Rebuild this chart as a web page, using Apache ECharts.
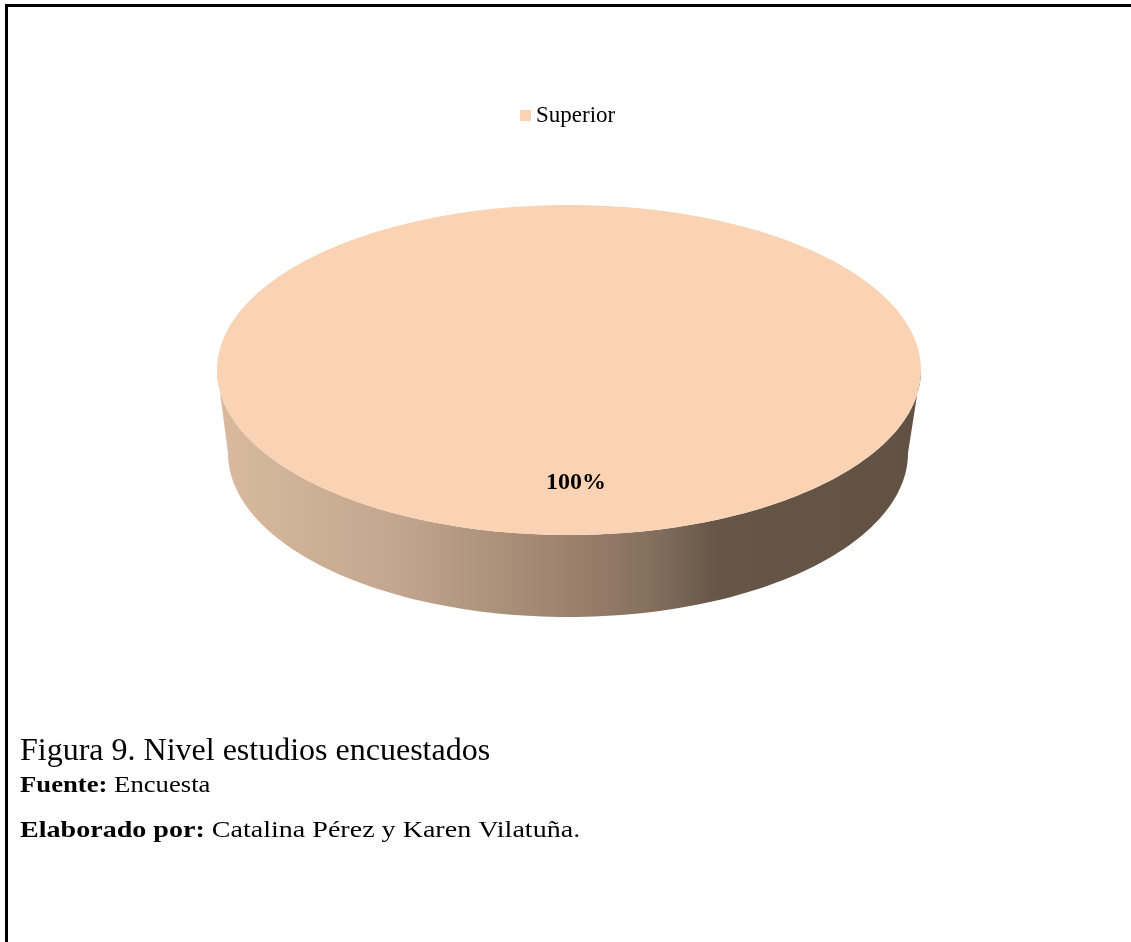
<!DOCTYPE html>
<html>
<head>
<meta charset="utf-8">
<title>Nivel estudios encuestados</title>
<script src="https://cdn.jsdelivr.net/npm/echarts@6/dist/echarts.min.js"></script>
<style>
  html, body { margin: 0; padding: 0; background: #fff; }
  #frame {
    position: absolute; left: 5px; top: 4px; right: 0; bottom: 0;
    border-top: 3px solid #000; border-left: 3px solid #000;
  }
  #chart { position: absolute; left: 0; top: 0; width: 1131px; height: 942px; }
</style>
</head>
<body>
<div id="frame"></div>
<div id="chart"></div>
<script>
// Survey answers: education level of respondents
const categories = ['Superior'];
const values = [100];

const captionTitle = 'Figura 9. Nivel estudios encuestados';
const sourceLabel = 'Fuente:';
const sourceText = 'Encuesta';
const authorLabel = 'Elaborado por:';
const authorText = 'Catalina Pérez y Karen Vilatuña.';

const SERIF = '"Liberation Serif", "DejaVu Serif", serif';
const TOP_COLOR = '#f9d3b4';

// Geometry of the tilted pie (top face ellipse and the bottom rim ellipse)
const disc = {
  cx: 569, cy: 370, rx: 352, ry: 165,
  bcx: 568, bcy: 453, brx: 340, bry: 164,
  labelFrac: 0.67, labelDx: 7, labelDy: 2
};

const total = values.reduce((a, b) => a + b, 0);
const starts = [];
values.reduce((acc, v, i) => { starts[i] = acc; return acc + v; }, 0);

function topPt(t) { return [disc.cx + disc.rx * Math.cos(t), disc.cy + disc.ry * Math.sin(t)]; }
function botPt(t) { return [disc.bcx + disc.brx * Math.cos(t), disc.bcy + disc.bry * Math.sin(t)]; }

function arc(fn, a, b, n) {
  const pts = [];
  for (let i = 0; i <= n; i++) pts.push(fn(a + (b - a) * i / n));
  return pts;
}

const sideGradient = {
  type: 'linear', global: true,
  x: disc.bcx - disc.brx, y: 0, x2: disc.bcx + disc.brx, y2: 0,
  colorStops: [
    { offset: 0.00, color: '#d8b99e' },
    { offset: 0.25, color: '#c2a68d' },
    { offset: 0.50, color: '#9c826e' },
    { offset: 0.62, color: '#85705e' },
    { offset: 0.72, color: '#665647' },
    { offset: 1.00, color: '#615244' }
  ]
};

function renderSlice(params, api) {
  const i = params.dataIndex;
  const v = api.value(1);
  // Slices start at twelve o'clock and run clockwise
  const a0 = -Math.PI / 2 + 2 * Math.PI * starts[i] / total;
  const a1 = a0 + 2 * Math.PI * v / total;
  const full = v >= total;
  const children = [];

  // Visible part of the side wall: the front half of the rim
  const lo = Math.max(a0, 0), hi = Math.min(a1, Math.PI);
  const ranges = [];
  if (hi > lo) ranges.push([lo, hi]);
  const lo2 = Math.max(a0, 2 * Math.PI), hi2 = Math.min(a1, 3 * Math.PI);
  if (hi2 > lo2) ranges.push([lo2, hi2]);
  ranges.forEach(r => {
    const pts = arc(topPt, r[0], r[1], 120).concat(arc(botPt, r[1], r[0], 120));
    children.push({ type: 'polygon', z2: 1, shape: { points: pts }, style: { fill: sideGradient } });
  });

  // Top face
  let topPts = arc(topPt, a0, a1, 240);
  if (!full) topPts = [[disc.cx, disc.cy]].concat(topPts);
  children.push({ type: 'polygon', z2: 2, shape: { points: topPts }, style: { fill: TOP_COLOR } });

  // Percentage label on the top face
  const mid = (a0 + a1) / 2;
  const pct = Math.round(v / total * 100) + '%';
  children.push({
    type: 'text', z2: 3,
    x: disc.cx + disc.labelFrac * disc.rx * Math.cos(mid) + disc.labelDx,
    y: disc.cy + disc.labelFrac * disc.ry * Math.sin(mid) + disc.labelDy,
    style: {
      text: pct, fill: '#000', align: 'center', verticalAlign: 'middle',
      font: 'bold 24px ' + SERIF
    }
  });
  return { type: 'group', children };
}

const chart = echarts.init(document.getElementById('chart'), null, { renderer: 'canvas' });
chart.setOption({
  animation: false,
  legend: {
    data: categories,
    left: 515, top: 99,
    icon: 'rect', itemWidth: 11, itemHeight: 11, itemGap: 10,
    textStyle: { fontFamily: SERIF, fontSize: 23, color: '#000' },
    itemStyle: { color: TOP_COLOR }
  },
  series: [{
    type: 'custom',
    name: categories[0],
    coordinateSystem: 'none',
    itemStyle: { color: TOP_COLOR },
    renderItem: renderSlice,
    data: categories.map((c, i) => ({ name: c, value: [i, values[i]] }))
  }],
  graphic: [
    {
      type: 'text', x: 20, y: 752,
      style: { text: captionTitle, font: '32px ' + SERIF, fill: '#000', verticalAlign: 'middle' }
    },
    {
      type: 'text', x: 20, y: 786, scaleX: 1.16,
      style: {
        text: '{b|' + sourceLabel + '} ' + sourceText,
        fontFamily: SERIF, fontSize: 23, fill: '#000', verticalAlign: 'middle',
        rich: { b: { fontFamily: SERIF, fontSize: 23, fontWeight: 'bold' } }
      }
    },
    {
      type: 'text', x: 20, y: 831, scaleX: 1.22,
      style: {
        text: '{b|' + authorLabel + '} ' + authorText,
        fontFamily: SERIF, fontSize: 23, fill: '#000', verticalAlign: 'middle',
        rich: { b: { fontFamily: SERIF, fontSize: 23, fontWeight: 'bold' } }
      }
    }
  ]
});
</script>
</body>
</html>
